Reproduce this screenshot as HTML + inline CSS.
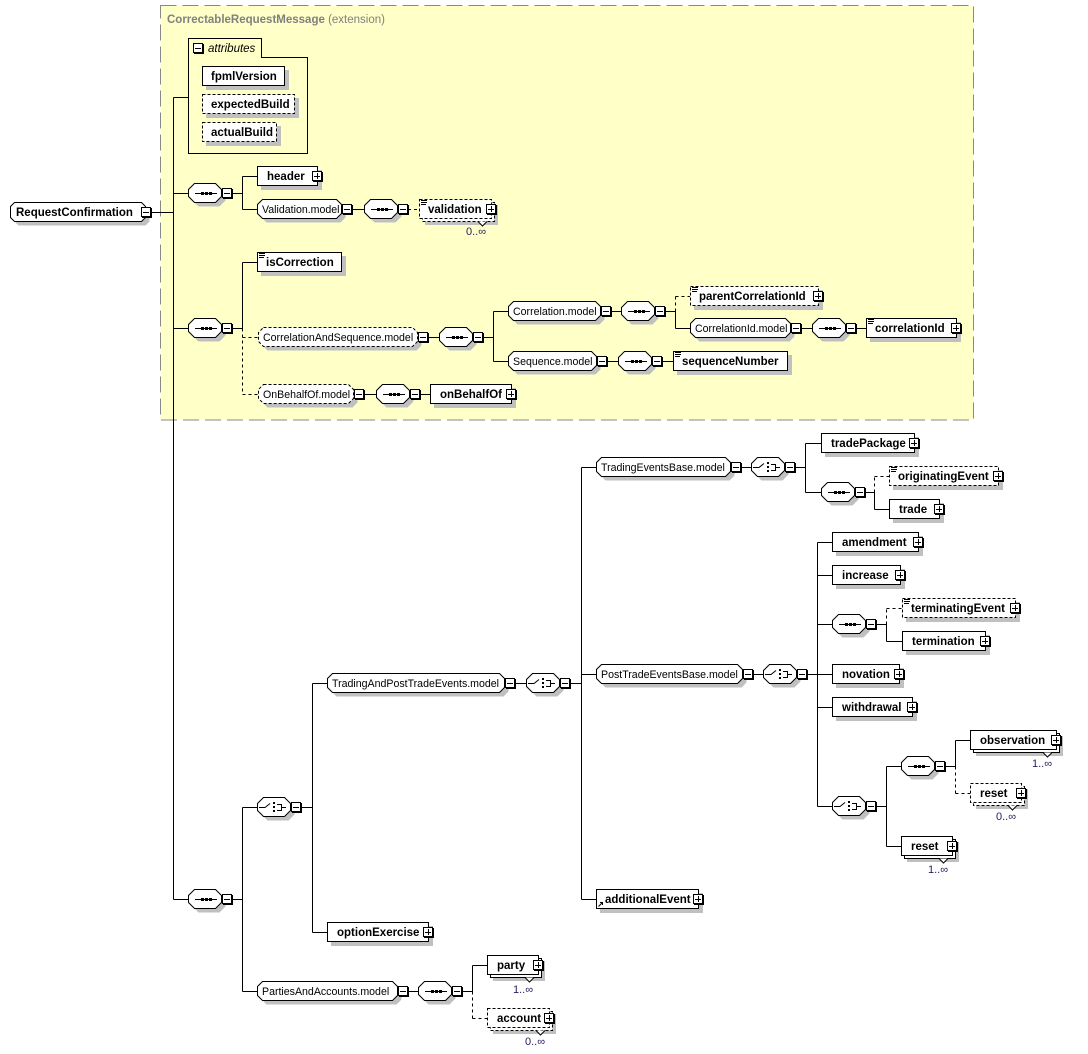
<!DOCTYPE html>
<html><head><meta charset="utf-8">
<style>
html,body{margin:0;padding:0;background:#fff;}
svg{display:block;}
text{font-family:"Liberation Sans",Arial,sans-serif;}
.b{font-weight:bold;font-size:11.5px;fill:#000;}
.m{font-size:10.6px;fill:#000;}
.q{font-size:11px;fill:#2a2060;}
.t{font-weight:bold;font-size:11.5px;fill:#808080;}
.tn{font-size:11.5px;fill:#808080;}
.it{font-style:italic;font-size:11.5px;fill:#000;}
</style></head><body>
<svg width="1088" height="1054" viewBox="0 0 1088 1054" xmlns="http://www.w3.org/2000/svg">
<defs>
 <path id="o34" d="M6.5,0.5H27.5L33.5,6.5V13.5L27.5,19.5H6.5L0.5,13.5V6.5Z"/>
 <g id="mn"><rect x="0.5" y="0.5" width="9" height="9" fill="#fff" stroke="#000"/><path d="M10.5,1V10.5H1" fill="none" stroke="#000"/><path d="M2,5.5H8" stroke="#000"/></g>
 <g id="pl"><rect x="0.5" y="0.5" width="9" height="9" fill="#fff" stroke="#000"/><path d="M10.5,1V10.5H1" fill="none" stroke="#000"/><path d="M2,5.5H8M5.5,2V8" stroke="#000"/></g>
 <g id="seq"><use href="#o34" x="4" y="4" fill="#c0c0c0"/><use href="#o34" fill="#fff" stroke="#000"/><path d="M7,10.5H29" stroke="#000"/><rect x="13" y="9" width="3" height="3"/><rect x="17" y="9" width="3" height="3"/><rect x="21" y="9" width="3" height="3"/><use href="#mn" x="34" y="5"/></g>
 <g id="cho"><use href="#o34" x="4" y="4" fill="#c0c0c0"/><use href="#o34" fill="#fff" stroke="#000"/><path d="M2,10.5H8L13,6.5" fill="none" stroke="#000"/><rect x="16" y="5" width="2" height="2"/><rect x="16" y="9" width="2" height="2"/><rect x="16" y="13" width="2" height="2"/><path d="M20,7.5H24.5V13.5H20M24.5,10.5H29" fill="none" stroke="#000"/><use href="#mn" x="34" y="5"/></g>
 <path id="eq" d="M2,1.5H8M2,3.5H8M2,5.5H7" stroke="#000" fill="none"/>
</defs>

<!-- extension container -->
<rect x="160.5" y="5.5" width="813" height="414.5" fill="#FFFFC8" stroke="#888" stroke-dasharray="16,6"/>
<text x="167" y="23" class="t">CorrectableRequestMessage <tspan class="tn" font-weight="normal">(extension)</tspan></text>

<!-- attributes -->
<path d="M188.5,38.5H261.5V57.5H307.5V153.5H188.5Z" fill="none" stroke="#000"/>
<use href="#mn" x="193" y="43"/>
<text x="208" y="52" class="it">attributes</text>
<g transform="translate(202,66)"><rect x="4" y="4" width="83" height="20" fill="#c0c0c0"/><rect x="0.5" y="0.5" width="82" height="19" fill="#fff" stroke="#000"/><text x="9" y="14" class="b">fpmlVersion</text></g>
<g transform="translate(202,94)"><rect x="4" y="4" width="93" height="20" fill="#c0c0c0"/><rect x="0.5" y="0.5" width="92" height="19" fill="#fff" stroke="#000" stroke-dasharray="3,2"/><text x="9" y="14" class="b">expectedBuild</text></g>
<g transform="translate(202,122)"><rect x="4" y="4" width="75" height="20" fill="#c0c0c0"/><rect x="0.5" y="0.5" width="74" height="19" fill="#fff" stroke="#000" stroke-dasharray="3,2"/><text x="9" y="14" class="b">actualBuild</text></g>

<!-- solid connectors -->
<path fill="none" stroke="#000" d="
M151,212.5H173.5 M173.5,97.5V899.5 M173.5,97.5H188 M173.5,193.5H188 M173.5,328.5H188 M173.5,899.5H188
M232,193.5H242.5 M242.5,176.5V209.5 M242.5,176.5H257 M242.5,209.5H257
M352,209.5H364
M232,328.5H242.5 M242.5,262.5V328.5 M242.5,262.5H257
M428,337.5H439 M483,337.5H493.5 M493.5,311.5V361.5 M493.5,311.5H508 M493.5,361.5H508
M611,311.5H621 M665,311.5H675.5 M675.5,311.5V328.5 M675.5,328.5H690
M801,328.5H812 M856,328.5H866
M607,361.5H618 M662,361.5H673
M364,394.5H376 M420,394.5H430
M232,899.5H242.5 M242.5,807.5V991.5 M242.5,807.5H257 M242.5,991.5H257
M301,807.5H312.5 M312.5,683.5V932.5 M312.5,683.5H327 M312.5,932.5H327
M515,683.5H526 M570,683.5H581.5 M581.5,467.5V899.5 M581.5,467.5H596 M581.5,674.5H596 M581.5,899.5H596
M741,467.5H751 M795,467.5H805.5 M805.5,443.5V492.5 M805.5,443.5H821 M805.5,492.5H821
M865,492.5H874.5 M874.5,492.5V509.5 M874.5,509.5H889
M753,674.5H763 M807,674.5H817.5 M817.5,542.5V806.5
M817.5,542.5H832 M817.5,575.5H832 M817.5,624.5H832 M817.5,674.5H832 M817.5,707.5H832 M817.5,806.5H832
M876,624.5H886.5 M886.5,624.5V641.5 M886.5,641.5H902
M876,806.5H886.5 M886.5,766.5V846.5 M886.5,766.5H901 M886.5,846.5H901
M945,766.5H955.5 M955.5,740.5V766.5 M955.5,740.5H970
M408,991.5H418 M462,991.5H472.5 M472.5,965.5V991.5 M472.5,965.5H487
"/>
<!-- dashed connectors -->
<path fill="none" stroke="#000" stroke-dasharray="3,3" d="
M408,209.5H419
M242.5,328.5V394.5 M242.5,337.5H258 M242.5,394.5H258
M675.5,311.5V296.5 M675.5,296.5H690
M874.5,492.5V476.5 M874.5,476.5H889
M886.5,624.5V608.5 M886.5,608.5H902
M955.5,766.5V793.5 M955.5,793.5H970
M472.5,991.5V1018.5 M472.5,1018.5H487
"/>

<!-- RequestConfirmation -->
<g transform="translate(10,202)">
 <path transform="translate(4,4)" fill="#c0c0c0" d="M4.5,.5H131.5L135.5,4.5V15.5L131.5,19.5H4.5L.5,15.5V4.5Z"/>
 <path fill="#fff" stroke="#000" d="M4.5,.5H131.5L135.5,4.5V15.5L131.5,19.5H4.5L.5,15.5V4.5Z"/>
 <text x="6" y="14" class="b">RequestConfirmation</text>
 <use href="#mn" x="131" y="5"/>
</g>

<!-- compositors -->
<use href="#seq" x="188" y="183"/>
<use href="#seq" x="364" y="199"/>
<use href="#seq" x="188" y="318"/>
<use href="#seq" x="439" y="327"/>
<use href="#seq" x="621" y="301"/>
<use href="#seq" x="812" y="318"/>
<use href="#seq" x="618" y="351"/>
<use href="#seq" x="376" y="384"/>
<use href="#seq" x="188" y="889"/>
<use href="#seq" x="821" y="482"/>
<use href="#seq" x="832" y="614"/>
<use href="#seq" x="901" y="756"/>
<use href="#seq" x="418" y="981"/>
<use href="#cho" x="257" y="797"/>
<use href="#cho" x="526" y="673"/>
<use href="#cho" x="751" y="457"/>
<use href="#cho" x="763" y="664"/>
<use href="#cho" x="832" y="796"/>

<!-- model groups -->
<g transform="translate(257,199)"><path transform="translate(4,4)" fill="#c0c0c0" d="M5.5,.5H79.5L84.5,5.5V14.5L79.5,19.5H5.5L.5,14.5V5.5Z"/><path fill="#fff" stroke="#000" d="M5.5,.5H79.5L84.5,5.5V14.5L79.5,19.5H5.5L.5,14.5V5.5Z"/><text x="5" y="14" class="m">Validation.model</text><use href="#mn" x="85" y="5"/></g>
<g transform="translate(258,327)"><path transform="translate(4,4)" fill="#c0c0c0" d="M5.5,.5H154.5L159.5,5.5V14.5L154.5,19.5H5.5L.5,14.5V5.5Z"/><path fill="#fff" stroke="#000" stroke-dasharray="3,2" d="M5.5,.5H154.5L159.5,5.5V14.5L154.5,19.5H5.5L.5,14.5V5.5Z"/><text x="5" y="14" class="m">CorrelationAndSequence.model</text><use href="#mn" x="160" y="5"/></g>
<g transform="translate(508,301)"><path transform="translate(4,4)" fill="#c0c0c0" d="M5.5,.5H87.5L92.5,5.5V14.5L87.5,19.5H5.5L.5,14.5V5.5Z"/><path fill="#fff" stroke="#000" d="M5.5,.5H87.5L92.5,5.5V14.5L87.5,19.5H5.5L.5,14.5V5.5Z"/><text x="5" y="14" class="m">Correlation.model</text><use href="#mn" x="93" y="5"/></g>
<g transform="translate(690,318)"><path transform="translate(4,4)" fill="#c0c0c0" d="M5.5,.5H95.5L100.5,5.5V14.5L95.5,19.5H5.5L.5,14.5V5.5Z"/><path fill="#fff" stroke="#000" d="M5.5,.5H95.5L100.5,5.5V14.5L95.5,19.5H5.5L.5,14.5V5.5Z"/><text x="5" y="14" class="m">CorrelationId.model</text><use href="#mn" x="101" y="5"/></g>
<g transform="translate(508,351)"><path transform="translate(4,4)" fill="#c0c0c0" d="M5.5,.5H83.5L88.5,5.5V14.5L83.5,19.5H5.5L.5,14.5V5.5Z"/><path fill="#fff" stroke="#000" d="M5.5,.5H83.5L88.5,5.5V14.5L83.5,19.5H5.5L.5,14.5V5.5Z"/><text x="5" y="14" class="m">Sequence.model</text><use href="#mn" x="89" y="5"/></g>
<g transform="translate(258,384)"><path transform="translate(4,4)" fill="#c0c0c0" d="M5.5,.5H90.5L95.5,5.5V14.5L90.5,19.5H5.5L.5,14.5V5.5Z"/><path fill="#fff" stroke="#000" stroke-dasharray="3,2" d="M5.5,.5H90.5L95.5,5.5V14.5L90.5,19.5H5.5L.5,14.5V5.5Z"/><text x="5" y="14" class="m">OnBehalfOf.model</text><use href="#mn" x="96" y="5"/></g>
<g transform="translate(327,673)"><path transform="translate(4,4)" fill="#c0c0c0" d="M5.5,.5H172.5L177.5,5.5V14.5L172.5,19.5H5.5L.5,14.5V5.5Z"/><path fill="#fff" stroke="#000" d="M5.5,.5H172.5L177.5,5.5V14.5L172.5,19.5H5.5L.5,14.5V5.5Z"/><text x="5" y="14" class="m">TradingAndPostTradeEvents.model</text><use href="#mn" x="178" y="5"/></g>
<g transform="translate(596,457)"><path transform="translate(4,4)" fill="#c0c0c0" d="M5.5,.5H129.5L134.5,5.5V14.5L129.5,19.5H5.5L.5,14.5V5.5Z"/><path fill="#fff" stroke="#000" d="M5.5,.5H129.5L134.5,5.5V14.5L129.5,19.5H5.5L.5,14.5V5.5Z"/><text x="5" y="14" class="m">TradingEventsBase.model</text><use href="#mn" x="135" y="5"/></g>
<g transform="translate(596,664)"><path transform="translate(4,4)" fill="#c0c0c0" d="M5.5,.5H141.5L146.5,5.5V14.5L141.5,19.5H5.5L.5,14.5V5.5Z"/><path fill="#fff" stroke="#000" d="M5.5,.5H141.5L146.5,5.5V14.5L141.5,19.5H5.5L.5,14.5V5.5Z"/><text x="5" y="14" class="m">PostTradeEventsBase.model</text><use href="#mn" x="147" y="5"/></g>
<g transform="translate(257,981)"><path transform="translate(4,4)" fill="#c0c0c0" d="M5.5,.5H135.5L140.5,5.5V14.5L135.5,19.5H5.5L.5,14.5V5.5Z"/><path fill="#fff" stroke="#000" d="M5.5,.5H135.5L140.5,5.5V14.5L135.5,19.5H5.5L.5,14.5V5.5Z"/><text x="5" y="14" class="m">PartiesAndAccounts.model</text><use href="#mn" x="141" y="5"/></g>

<!-- elements -->
<g transform="translate(257,166)"><rect x="4" y="4" width="61" height="20" fill="#c0c0c0"/><rect x="0.5" y="0.5" width="60" height="19" fill="#fff" stroke="#000"/><text x="10" y="14" class="b">header</text><use href="#pl" x="55" y="5"/></g>

<g transform="translate(419,199)"><rect x="6" y="6" width="73" height="20" fill="#c0c0c0"/><rect x="3.5" y="3.5" width="72" height="19" fill="#fff" stroke="#000" stroke-dasharray="3,2"/><rect x="0.5" y="0.5" width="72" height="19" fill="#fff" stroke="#000" stroke-dasharray="3,2"/><path d="M59,22.5l4.5,4.5l4.5,-4.5" fill="#fff" stroke="#000"/><use href="#eq"/><text x="9" y="14" class="b">validation</text><use href="#pl" x="67" y="5"/></g>
<text x="466" y="235" class="q">0..∞</text>

<g transform="translate(257,252)"><rect x="4" y="4" width="85" height="20" fill="#c0c0c0"/><rect x="0.5" y="0.5" width="84" height="19" fill="#fff" stroke="#000"/><use href="#eq"/><text x="9" y="14" class="b">isCorrection</text></g>

<g transform="translate(690,286)"><rect x="4" y="4" width="129" height="20" fill="#c0c0c0"/><rect x="0.5" y="0.5" width="128" height="19" fill="#fff" stroke="#000" stroke-dasharray="3,2"/><use href="#eq"/><text x="9" y="14" class="b">parentCorrelationId</text><use href="#pl" x="123" y="5"/></g>

<g transform="translate(866,318)"><rect x="4" y="4" width="91" height="20" fill="#c0c0c0"/><rect x="0.5" y="0.5" width="90" height="19" fill="#fff" stroke="#000"/><use href="#eq"/><text x="9" y="14" class="b">correlationId</text><use href="#pl" x="85" y="5"/></g>

<g transform="translate(673,351)"><rect x="4" y="4" width="115" height="20" fill="#c0c0c0"/><rect x="0.5" y="0.5" width="114" height="19" fill="#fff" stroke="#000"/><use href="#eq"/><text x="9" y="14" class="b">sequenceNumber</text></g>

<g transform="translate(430,384)"><rect x="4" y="4" width="82" height="20" fill="#c0c0c0"/><rect x="0.5" y="0.5" width="81" height="19" fill="#fff" stroke="#000"/><text x="10" y="14" class="b">onBehalfOf</text><use href="#pl" x="76" y="5"/></g>

<g transform="translate(821,433)"><rect x="4" y="4" width="94" height="20" fill="#c0c0c0"/><rect x="0.5" y="0.5" width="93" height="19" fill="#fff" stroke="#000"/><text x="10" y="14" class="b">tradePackage</text><use href="#pl" x="88" y="5"/></g>

<g transform="translate(889,466)"><rect x="4" y="4" width="110" height="20" fill="#c0c0c0"/><rect x="0.5" y="0.5" width="109" height="19" fill="#fff" stroke="#000" stroke-dasharray="3,2"/><use href="#eq"/><text x="9" y="14" class="b">originatingEvent</text><use href="#pl" x="104" y="5"/></g>

<g transform="translate(889,499)"><rect x="4" y="4" width="51" height="20" fill="#c0c0c0"/><rect x="0.5" y="0.5" width="50" height="19" fill="#fff" stroke="#000"/><text x="10" y="14" class="b">trade</text><use href="#pl" x="45" y="5"/></g>

<g transform="translate(832,532)"><rect x="4" y="4" width="87" height="20" fill="#c0c0c0"/><rect x="0.5" y="0.5" width="86" height="19" fill="#fff" stroke="#000"/><text x="10" y="14" class="b">amendment</text><use href="#pl" x="81" y="5"/></g>

<g transform="translate(832,565)"><rect x="4" y="4" width="69" height="20" fill="#c0c0c0"/><rect x="0.5" y="0.5" width="68" height="19" fill="#fff" stroke="#000"/><text x="10" y="14" class="b">increase</text><use href="#pl" x="63" y="5"/></g>

<g transform="translate(902,598)"><rect x="4" y="4" width="114" height="20" fill="#c0c0c0"/><rect x="0.5" y="0.5" width="113" height="19" fill="#fff" stroke="#000" stroke-dasharray="3,2"/><use href="#eq"/><text x="9" y="14" class="b">terminatingEvent</text><use href="#pl" x="108" y="5"/></g>

<g transform="translate(902,631)"><rect x="4" y="4" width="84" height="20" fill="#c0c0c0"/><rect x="0.5" y="0.5" width="83" height="19" fill="#fff" stroke="#000"/><text x="10" y="14" class="b">termination</text><use href="#pl" x="78" y="5"/></g>

<g transform="translate(832,664)"><rect x="4" y="4" width="68" height="20" fill="#c0c0c0"/><rect x="0.5" y="0.5" width="67" height="19" fill="#fff" stroke="#000"/><text x="10" y="14" class="b">novation</text><use href="#pl" x="62" y="5"/></g>

<g transform="translate(832,697)"><rect x="4" y="4" width="81" height="20" fill="#c0c0c0"/><rect x="0.5" y="0.5" width="80" height="19" fill="#fff" stroke="#000"/><text x="10" y="14" class="b">withdrawal</text><use href="#pl" x="75" y="5"/></g>

<g transform="translate(970,730)"><rect x="6" y="6" width="87" height="20" fill="#c0c0c0"/><rect x="3.5" y="3.5" width="86" height="19" fill="#fff" stroke="#000"/><rect x="0.5" y="0.5" width="86" height="19" fill="#fff" stroke="#000"/><path d="M73,22.5l4.5,4.5l4.5,-4.5" fill="#fff" stroke="#000"/><text x="10" y="14" class="b">observation</text><use href="#pl" x="81" y="5"/></g>
<text x="1032" y="767" class="q">1..∞</text>

<g transform="translate(970,783)"><rect x="6" y="6" width="52" height="20" fill="#c0c0c0"/><rect x="3.5" y="3.5" width="51" height="19" fill="#fff" stroke="#000" stroke-dasharray="3,2"/><rect x="0.5" y="0.5" width="51" height="19" fill="#fff" stroke="#000" stroke-dasharray="3,2"/><path d="M38,22.5l4.5,4.5l4.5,-4.5" fill="#fff" stroke="#000"/><text x="10" y="14" class="b">reset</text><use href="#pl" x="46" y="5"/></g>
<text x="996" y="820" class="q">0..∞</text>

<g transform="translate(901,836)"><rect x="6" y="6" width="52" height="20" fill="#c0c0c0"/><rect x="3.5" y="3.5" width="51" height="19" fill="#fff" stroke="#000"/><rect x="0.5" y="0.5" width="51" height="19" fill="#fff" stroke="#000"/><path d="M38,22.5l4.5,4.5l4.5,-4.5" fill="#fff" stroke="#000"/><text x="10" y="14" class="b">reset</text><use href="#pl" x="46" y="5"/></g>
<text x="928" y="873" class="q">1..∞</text>

<g transform="translate(596,889)"><rect x="4" y="4" width="103" height="20" fill="#c0c0c0"/><rect x="0.5" y="0.5" width="102" height="19" fill="#fff" stroke="#000"/><path d="M2.5,17.5L6.5,13.5M4,13.5H6.5V16" fill="none" stroke="#000"/><text x="9" y="14" class="b">additionalEvent</text><use href="#pl" x="97" y="5"/></g>

<g transform="translate(327,922)"><rect x="4" y="4" width="102" height="20" fill="#c0c0c0"/><rect x="0.5" y="0.5" width="101" height="19" fill="#fff" stroke="#000"/><text x="10" y="14" class="b">optionExercise</text><use href="#pl" x="96" y="5"/></g>

<g transform="translate(487,955)"><rect x="6" y="6" width="52" height="20" fill="#c0c0c0"/><rect x="3.5" y="3.5" width="51" height="19" fill="#fff" stroke="#000"/><rect x="0.5" y="0.5" width="51" height="19" fill="#fff" stroke="#000"/><path d="M38,22.5l4.5,4.5l4.5,-4.5" fill="#fff" stroke="#000"/><text x="10" y="14" class="b">party</text><use href="#pl" x="46" y="5"/></g>
<text x="513" y="993" class="q">1..∞</text>

<g transform="translate(487,1008)"><rect x="6" y="6" width="63" height="20" fill="#c0c0c0"/><rect x="3.5" y="3.5" width="62" height="19" fill="#fff" stroke="#000" stroke-dasharray="3,2"/><rect x="0.5" y="0.5" width="62" height="19" fill="#fff" stroke="#000" stroke-dasharray="3,2"/><path d="M49,22.5l4.5,4.5l4.5,-4.5" fill="#fff" stroke="#000"/><text x="10" y="14" class="b">account</text><use href="#pl" x="57" y="5"/></g>
<text x="525" y="1045" class="q">0..∞</text>

</svg>
</body></html>
